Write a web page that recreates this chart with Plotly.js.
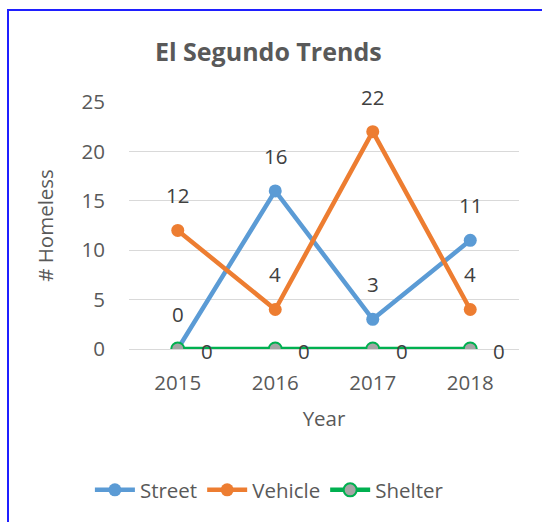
<!DOCTYPE html>
<html>
<head>
<meta charset="utf-8">
<script src="https://cdn.plot.ly/plotly-3.0.1.min.js"></script>
<style>
  html, body { margin: 0; padding: 0; background: #fff; }
  #wrap { position: relative; width: 542px; height: 522px; overflow: hidden; }
  #chart { position: absolute; left: 0; top: 0; width: 542px; height: 522px; }
  #frame { position: absolute; left: 7px; top: 9px; width: 560px; height: 560px;
           border-top: 2px solid #1f1fff; border-left: 2px solid #1f1fff; pointer-events: none; }
</style>
</head>
<body>
<div id="wrap">
  <div id="chart"></div>
  <div id="frame"></div>
</div>
<script>
const years = ['2015', '2016', '2017', '2018'];
const street = [0, 16, 3, 11];
const vehicle = [12, 4, 22, 4];
const shelter = [0, 0, 0, 0];
const yTicks = [0, 5, 10, 15, 20, 25];

const FONT = 'Open Sans, Lato, sans-serif';
const GRAY = '#595959';
const LABEL = '#404040';
const FS = 20.5;

const traces = [
  {
    name: 'Street', x: years, y: street, type: 'scatter', mode: 'lines+markers',
    line: {color: '#5B9BD5', width: 4.5},
    marker: {color: '#5B9BD5', size: 13}
  },
  {
    name: 'Vehicle', x: years, y: vehicle, type: 'scatter', mode: 'lines+markers',
    line: {color: '#ED7D31', width: 4.5},
    marker: {color: '#ED7D31', size: 13}
  },
  {
    name: 'Shelter', x: years, y: shelter, type: 'scatter', mode: 'lines+markers',
    line: {color: '#00B050', width: 4.5},
    marker: {color: '#A5A5A5', size: 13, line: {color: '#00B050', width: 2}}
  }
];

const annotations = [];
function addLabels(vals, xshift, yshift) {
  vals.forEach((v, i) => {
    annotations.push({
      x: i, y: v, xref: 'x', yref: 'y', text: String(v), showarrow: false,
      xanchor: 'center', yanchor: 'middle',
      xshift: xshift, yshift: yshift,
      font: {family: FONT, size: FS, color: LABEL}
    });
  });
}
addLabels(street, 0, 35);
addLabels(vehicle, 0, 35);
addLabels(shelter, 29, -2);

const layout = {
  width: 542, height: 522,
  margin: {l: 129, r: 23, t: 102, b: 173},
  paper_bgcolor: '#ffffff', plot_bgcolor: '#ffffff',
  font: {family: FONT, color: GRAY, size: FS},
  title: {
    text: '<b>El Segundo Trends</b>',
    font: {family: FONT, size: 25, color: GRAY},
    x: 0.495, xref: 'container', xanchor: 'center',
    y: 0.9, yref: 'container', yanchor: 'middle'
  },
  xaxis: {
    type: 'category', categoryorder: 'array', categoryarray: years,
    range: [-0.5, 3.5], showgrid: false, zeroline: false, showline: false,
    ticks: 'outside', ticklen: 15, tickcolor: 'rgba(0,0,0,0)',
    tickfont: {family: FONT, size: FS, color: GRAY},
    title: {text: 'Year', standoff: 17, font: {family: FONT, size: FS, color: GRAY}}
  },
  yaxis: {
    range: [0, 25], tickvals: yTicks, ticktext: yTicks.map(String),
    showgrid: true, gridcolor: '#D9D9D9', gridwidth: 1,
    zeroline: true, zerolinecolor: '#D9D9D9', zerolinewidth: 1, showline: false,
    ticks: 'outside', ticklen: 19, tickcolor: 'rgba(0,0,0,0)',
    tickfont: {family: FONT, size: FS, color: GRAY},
    title: {text: '# Homeless', standoff: 22, font: {family: FONT, size: FS, color: GRAY}}
  },
  showlegend: true,
  legend: {
    orientation: 'h', x: 0.36, xanchor: 'center', y: -0.571, yanchor: 'middle',
    font: {family: FONT, size: FS, color: GRAY}, itemwidth: 40, tracegroupgap: 0
  },
  annotations: annotations
};

Plotly.newPlot('chart', traces, layout, {displayModeBar: false, staticPlot: true});
</script>
</body>
</html>
